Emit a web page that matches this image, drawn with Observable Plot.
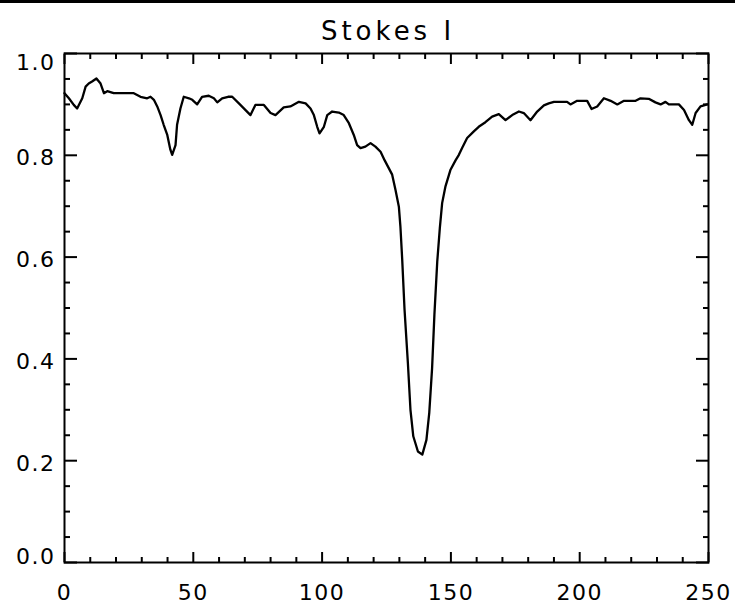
<!DOCTYPE html>
<html>
<head>
<meta charset="utf-8">
<script src="https://cdn.jsdelivr.net/npm/d3@7"></script>
<script src="https://cdn.jsdelivr.net/npm/@observablehq/plot@0.6"></script>
<style>
  html, body { margin: 0; padding: 0; background: #fff; }
  #page { width: 735px; height: 607px; position: relative; overflow: hidden; }
  #topline { height: 3px; background: #000; width: 735px; }
  #title { position: relative; height: 42px; width: 735px; }
  #title span { position: absolute; left: 388px; top: 15px; transform: translateX(-50%);
    font-family: "DejaVu Sans", sans-serif; font-size: 26px; line-height: 26px; letter-spacing: 4px; color: #000; white-space: nowrap; }
  #chart svg text { letter-spacing: 1.5px; }
</style>
</head>
<body>
<div id="page">
  <div id="topline"></div>
  <div id="title"><span>Stokes I</span></div>
  <div id="chart"></div>
</div>
<script>
const titleText = "Stokes I";
const xs = [0,1.7,3.6,4.9,6.9,8.2,9.4,10.7,12.4,14,15.3,16.6,19.1,26.9,29.5,32.1,33.4,34.7,36,37.3,38.5,39.9,41.1,41.8,43.1,43.7,45,46.3,48.3,49.6,51.5,53.4,56,58,59.3,61.2,63.5,65.1,67.7,72.2,74.1,77.4,80,81.9,85.1,87.7,91,93.6,95.5,96.8,98.1,99,100.7,102,103.9,106.5,108.4,110.4,112.3,113.6,114.9,116.8,118.8,120.7,122.7,124.3,127.2,128.5,129.8,130.4,131.1,132,133.3,134.3,135.4,137.2,138.9,140.5,141.6,142.7,143.6,144.7,145.7,146.6,147.9,149.8,151.8,153.1,154.4,156.3,158.9,160.8,163.4,166,168.6,171.2,173.8,176.4,178.3,180.9,183.5,186.1,188,190,192.5,195.1,196.4,199,202.9,204.6,206.8,209.4,212,214.6,217.2,221.7,223.6,226.8,229.4,231.4,233.3,234.6,238.5,240.5,242.4,243.7,245,246.9,249.5];
const ys = [0.922,0.912,0.899,0.892,0.912,0.935,0.941,0.945,0.951,0.941,0.922,0.926,0.922,0.922,0.915,0.912,0.915,0.909,0.896,0.879,0.860,0.840,0.811,0.801,0.820,0.860,0.892,0.915,0.912,0.909,0.900,0.915,0.917,0.912,0.904,0.912,0.915,0.915,0.902,0.879,0.899,0.899,0.883,0.879,0.894,0.896,0.905,0.902,0.892,0.879,0.856,0.843,0.856,0.879,0.886,0.884,0.879,0.863,0.840,0.820,0.814,0.817,0.824,0.817,0.807,0.790,0.762,0.732,0.699,0.660,0.595,0.497,0.392,0.300,0.248,0.218,0.212,0.241,0.294,0.382,0.487,0.591,0.657,0.706,0.739,0.771,0.790,0.801,0.815,0.834,0.847,0.856,0.865,0.876,0.881,0.869,0.879,0.886,0.883,0.869,0.886,0.898,0.902,0.905,0.905,0.905,0.900,0.907,0.907,0.891,0.896,0.912,0.907,0.900,0.907,0.907,0.912,0.911,0.904,0.900,0.905,0.900,0.900,0.889,0.869,0.860,0.883,0.896,0.900];
const xMajor = [0, 50, 100, 150, 200, 250];
const xMinor = [10,20,30,40,60,70,80,90,110,120,130,140,160,170,180,190,210,220,230,240];
const yMajor = [0, 0.2, 0.4, 0.6, 0.8, 1.0];
const yMinor = [0.05,0.1,0.15,0.25,0.3,0.35,0.45,0.5,0.55,0.65,0.7,0.75,0.85,0.9,0.95];
const yInner = [0.2, 0.4, 0.6, 0.8];

const data = xs.map((x, i) => ({x, y: ys[i]}));
const fmtY = d => d.toFixed(1);
const tk = {stroke: "black", strokeWidth: 2, fill: "none", label: null};

const plot = Plot.plot({
  width: 735,
  height: 562,
  marginLeft: 64,
  marginRight: 27,
  marginTop: 8,
  marginBottom: 45,
  style: {fontFamily: "DejaVu Sans, sans-serif", fontSize: "22px", color: "black", background: "white"},
  x: {domain: [0, 250]},
  y: {domain: [0, 1]},
  marks: [
    Plot.line(data, {x: "x", y: "y", stroke: "black", strokeWidth: 2.3}),
    Plot.axisX({anchor: "bottom", ticks: xMajor, tickSize: -10, ...tk}),
    Plot.axisX({anchor: "bottom", ticks: xMinor, tickSize: -5, ...tk}),
    Plot.axisX({anchor: "top", ticks: xMajor, tickSize: -10, ...tk}),
    Plot.axisX({anchor: "top", ticks: xMinor, tickSize: -5, ...tk}),
    Plot.axisY({anchor: "left", ticks: yMajor, tickSize: -13, ...tk}),
    Plot.axisY({anchor: "left", ticks: yMinor, tickSize: -6, ...tk}),
    Plot.axisY({anchor: "right", ticks: yMajor, tickSize: -13, ...tk}),
    Plot.axisY({anchor: "right", ticks: yMinor, tickSize: -6, ...tk}),
    Plot.axisX({anchor: "bottom", ticks: xMajor, tickSize: 0, tickPadding: 22, fill: "black", label: null, tickFormat: d => String(d)}),
    Plot.axisY({anchor: "left", ticks: yInner, tickSize: 0, tickPadding: 9, dy: 3, fill: "black", label: null, tickFormat: fmtY}),
    Plot.axisY({anchor: "left", ticks: [1.0], tickSize: 0, tickPadding: 9, dy: 9, fill: "black", label: null, tickFormat: fmtY}),
    Plot.axisY({anchor: "left", ticks: [0.0], tickSize: 0, tickPadding: 9, dy: -6, fill: "black", label: null, tickFormat: fmtY}),
    Plot.frame({stroke: "black", strokeWidth: 2})
  ]
});
document.getElementById("chart").appendChild(plot);
document.querySelector("#title span").textContent = titleText;
</script>
</body>
</html>
